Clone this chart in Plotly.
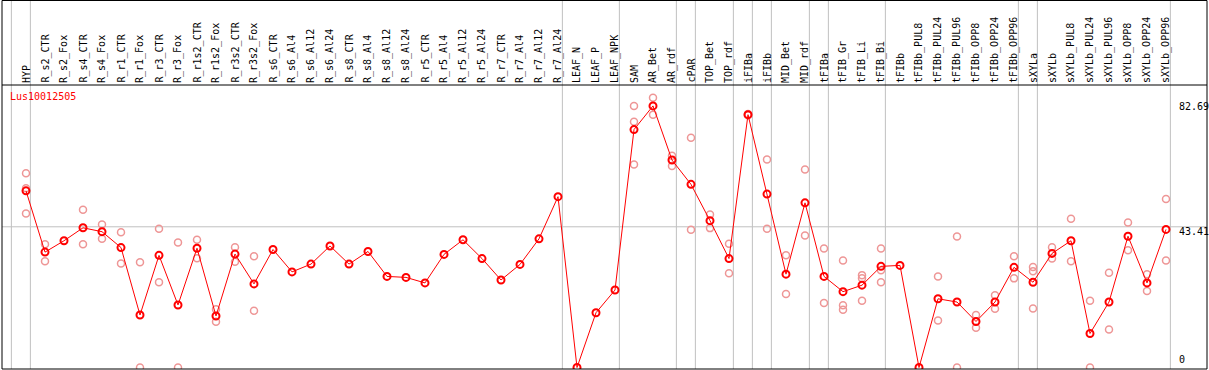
import plotly.graph_objects as go

categories = [
    "HYP", "R_s2_CTR", "R_s2_Fox", "R_s4_CTR", "R_s4_Fox", "R_r1_CTR", "R_r1_Fox",
    "R_r3_CTR", "R_r3_Fox", "R_r1s2_CTR", "R_r1s2_Fox", "R_r3s2_CTR", "R_r3s2_Fox",
    "R_s6_CTR", "R_s6_Al4", "R_s6_Al12", "R_s6_Al24", "R_s8_CTR", "R_s8_Al4",
    "R_s8_Al12", "R_s8_Al24", "R_r5_CTR", "R_r5_Al4", "R_r5_Al12", "R_r5_Al24",
    "R_r7_CTR", "R_r7_Al4", "R_r7_Al12", "R_r7_Al24", "LEAF_N", "LEAF_P", "LEAF_NPK",
    "SAM", "AR_Bet", "AR_rdf", "cPAR", "TOP_Bet", "TOP_rdf", "iFIBa", "iFIBb",
    "MID_Bet", "MID_rdf", "tFIBa", "tFIB_Gr", "tFIB_Li", "tFIB_Bi", "tFIBb",
    "tFIBb_PUL8", "tFIBb_PUL24", "tFIBb_PUL96", "tFIBb_OPP8", "tFIBb_OPP24",
    "tFIBb_OPP96", "sXYLa", "sXYLb", "sXYLb_PUL8", "sXYLb_PUL24", "sXYLb_PUL96",
    "sXYLb_OPP8", "sXYLb_OPP24", "sXYLb_OPP96",
]

mean_values = [
    54.5, 35.6, 39.1, 43.1, 41.9, 37.0, 16.2,
    34.6, 19.3, 36.8, 15.9, 35.0, 25.8,
    36.4, 29.5, 31.9, 37.5, 31.9, 35.8,
    28.1, 27.8, 26.1, 34.9, 39.4, 33.6,
    27.0, 31.8, 39.7, 52.7, 0.0, 16.9, 23.9,
    73.4, 80.7, 64.0, 56.5, 45.3, 33.6, 78.0, 53.5,
    28.8, 50.8, 28.1, 23.4, 25.4, 31.2, 31.5,
    0.0, 21.2, 20.2, 14.2, 20.2,
    30.9, 26.3, 35.2, 39.1, 10.5, 20.2,
    40.5, 26.1, 42.6,
]

replicate_values = [
    [59.9, 55.3, 47.5], [38.0, 32.8], [], [48.7, 38.0], [44.1, 39.7], [41.7, 32.1], [32.5, 0.0],
    [42.8, 26.3], [38.6, 0.0], [39.4, 33.7], [18.0, 14.1], [37.1, 32.6], [34.3, 17.5],
    [], [], [], [], [], [],
    [], [], [], [], [], [],
    [], [], [], [], [], [], [],
    [80.7, 75.8, 62.6], [83.2, 78.0], [65.3, 62.2], [70.9, 42.5], [47.2, 43.0], [38.2, 29.1], [78.2, 77.8], [64.2, 42.8],
    [34.6, 22.7], [61.1, 40.7], [36.7, 19.9], [33.0, 19.2, 17.8], [28.5, 27.5, 20.6], [36.7, 30.0, 26.3], [],
    [], [28.1, 14.5], [40.4, 0.0], [16.2, 12.3], [22.3, 18.1],
    [34.3, 27.5], [31.0, 29.7, 18.2], [37.1, 33.6], [45.9, 32.8], [20.6, 0.0], [29.2, 11.7],
    [44.7, 36.2], [28.8, 23.6], [52.0, 33.0],
]

group_ends = ["", "HYP", "R_r7_Al24", "LEAF_NPK", "AR_rdf", "cPAR", "TOP_rdf", "iFIBa",
              "iFIBb", "MID_rdf", "tFIBa", "tFIB_Bi", "tFIBb_OPP96", "sXYLa", "sXYLb_OPP96"]

scale_labels = ["82.69", "43.41", "0"]
scale_values = [82.69, 43.41, 0.0]
reference_line = 43.41
gene_name = "Lus10012505"

FONT = "DejaVu Sans Mono"
W, H = 1209, 370
ML, MR, MT, MB = 2, 2, 85, 1
PH = H - MT - MB

idx = list(range(len(categories)))
rep_x, rep_y = [], []
for i, reps in enumerate(replicate_values):
    for v in reps:
        rep_x.append(i)
        rep_y.append(v)

fig = go.Figure()
fig.add_trace(go.Scatter(
    x=rep_x, y=rep_y, mode="markers", hoverinfo="skip",
    marker=dict(symbol="circle-open", size=7, color="rgb(238,150,150)",
                line=dict(width=1.5, color="rgb(238,150,150)")),
))
fig.add_trace(go.Scatter(
    x=idx, y=mean_values, mode="lines+markers", text=categories,
    line=dict(color="#ff0000", width=1),
    marker=dict(symbol="circle-open", size=7, color="#ff0000",
                line=dict(width=2, color="#ff0000")),
))

top_paper = 1 + (MT - 0.5) / PH
shapes = []
for name in group_ends:
    i = categories.index(name) if name else -1
    shapes.append(dict(type="line", xref="x", yref="paper", x0=i + 0.23, x1=i + 0.23,
                       y0=0, y1=top_paper, line=dict(color="#c0c0c0", width=1), layer="below"))
shapes.append(dict(type="line", xref="paper", yref="y", x0=0, x1=1, y0=reference_line,
                   y1=reference_line, line=dict(color="#c0c0c0", width=1), layer="below"))
shapes.append(dict(type="rect", xref="paper", yref="paper", x0=0, x1=1, y0=0, y1=top_paper,
                   line=dict(color="black", width=1)))
shapes.append(dict(type="line", xref="paper", yref="paper", x0=0, x1=1, y0=1, y1=1,
                   line=dict(color="black", width=1)))

annotations = []
for i, name in enumerate(categories):
    annotations.append(dict(x=i, y=1, xref="x", yref="paper", text=name, showarrow=False,
                            textangle=-90, xanchor="center", yanchor="bottom", yshift=0,
                            font=dict(family=FONT, size=10, color="black")))
annotations.append(dict(x=(9.3 - ML) / (W - ML - MR), y=(H - MB - 96.7) / PH, xref="paper",
                        yref="paper", text=gene_name, showarrow=False, xanchor="left",
                        yanchor="middle", xshift=-1,
                        font=dict(family=FONT, size=10, color="#ff0000")))
shifts = [-7, -4.5, 8.5]
for lab, val, sh in zip(scale_labels, scale_values, shifts):
    annotations.append(dict(x=(1178 - ML) / (W - ML - MR), y=val, xref="paper", yref="y",
                            text=lab, showarrow=False, xanchor="left", yanchor="middle",
                            yshift=sh, xshift=-1,
                            font=dict(family=FONT, size=10, color="black")))

fig.update_layout(
    width=W, height=H, margin=dict(l=ML, r=MR, t=MT, b=MB, pad=0),
    paper_bgcolor="white", plot_bgcolor="white", showlegend=False,
    xaxis=dict(range=[-1.263, 62.158], showgrid=False, zeroline=False, showticklabels=False,
               ticks="", fixedrange=True),
    yaxis=dict(range=[-0.458, 87.15], showgrid=False, zeroline=False, showticklabels=False,
               ticks="", fixedrange=True),
    shapes=shapes, annotations=annotations,
)

fig.write_html("out.html", config={"displayModeBar": False},
               post_script="document.body.style.margin='0';document.body.style.overflow='hidden';")
